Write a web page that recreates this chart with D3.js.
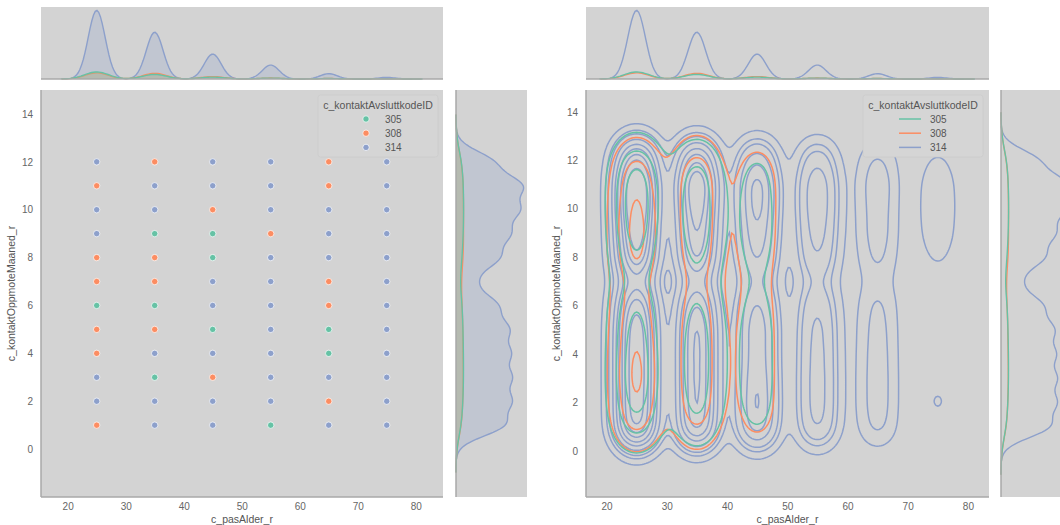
<!DOCTYPE html>
<html>
<head>
<meta charset="utf-8">
<script src="https://cdn.jsdelivr.net/npm/d3@7"></script>
<style>
  body { margin: 0; background: #fff; }
  text { font-family: "Liberation Sans", Arial, sans-serif; }
</style>
</head>
<body>
<div id="chart"></div>
<script>
// two seaborn-style jointplots: scatter with kde marginals (left),
// bivariate kde contours with kde marginals (right)
const ages = [25, 35, 45, 55, 65, 75];
const months = [1, 2, 3, 4, 5, 6, 7, 8, 9, 10, 11, 12];
const hueLevels = ["305", "308", "314"];
const hueColors = ["#66c2a5", "#fc8d62", "#8da0cb"];

// estimated row counts, one row per age, columns = months 1..12
const counts305 = [
  [70, 90, 100, 95, 85, 80, 40, 75, 90, 100, 95, 80],
  [45, 55, 60, 60, 58, 50, 30, 52, 62, 65, 63, 50],
  [20, 24, 25, 25, 25, 22, 14, 22, 25, 25, 23, 20],
  [12, 11, 11, 11, 11, 11, 8, 11, 11, 12, 11, 10],
  [5, 5, 6, 7, 7, 6, 4, 5, 5, 5, 5, 5],
  [2, 2, 2, 2, 2, 2, 2, 2, 3, 2, 2, 2]
];
const counts308 = [
  [65, 70, 85, 75, 70, 60, 50, 85, 85, 80, 70, 55],
  [55, 65, 70, 70, 68, 62, 45, 65, 70, 72, 75, 63],
  [25, 28, 28, 28, 28, 26, 20, 28, 30, 30, 32, 27],
  [10, 10, 11, 11, 11, 10, 9, 12, 12, 12, 12, 10],
  [5, 6, 5, 5, 5, 6, 6, 5, 5, 6, 6, 5],
  [2, 2, 2, 2, 2, 2, 2, 2, 2, 2, 3, 2]
];
const counts314 = [
  [600, 620, 640, 640, 620, 500, 200, 520, 620, 740, 760, 440],
  [400, 420, 430, 430, 430, 340, 140, 350, 410, 475, 555, 320],
  [230, 250, 230, 210, 220, 180, 90, 180, 220, 260, 280, 150],
  [120, 130, 130, 125, 120, 100, 45, 105, 130, 150, 155, 90],
  [45, 50, 50, 48, 45, 40, 20, 40, 50, 50, 58, 40],
  [2, 18, 5, 4, 4, 4, 3, 14, 28, 32, 30, 14]
];
// hue of the marker that ends up drawn on top, per age, months 1..12
const topHue = [
  ["308", "314", "314", "308", "308", "305", "308", "308", "314", "314", "308", "314"],
  ["314", "314", "305", "314", "308", "305", "308", "308", "305", "314", "314", "308"],
  ["314", "314", "308", "314", "305", "314", "314", "305", "305", "308", "314", "314"],
  ["305", "314", "314", "314", "314", "314", "314", "314", "308", "314", "314", "314"],
  ["314", "308", "314", "305", "305", "308", "308", "314", "314", "314", "308", "308"],
  ["314", "314", "314", "314", "314", "314", "314", "314", "314", "314", "314", "314"]
];
const xTicks = [20, 30, 40, 50, 60, 70, 80];
const yTicks = [0, 2, 4, 6, 8, 10, 12, 14];
const xLabel = "c_pasAlder_r";
const yLabel = "c_kontaktOppmoteMaaned_r";
const legendTitle = "c_kontaktAvsluttkodeID";

// kernel bandwidths (age, month) per hue
const bw1d = { "305": [2.06, 0.66], "308": [2.0, 0.66], "314": [1.46, 0.47] };
const bw2d = { "305": [2.8, 0.85], "308": [2.75, 0.85], "314": [2.1, 0.6] };

const countsByHue = { "305": counts305, "308": counts308, "314": counts314 };
const colorOf = h => hueColors[hueLevels.indexOf(h)];
const N = d3.sum(hueLevels, h => d3.sum(countsByHue[h], r => d3.sum(r)));

const W = 1060, H = 525;
const svg = d3.select("#chart").append("svg")
  .attr("width", W).attr("height", H);

const BG = "#d3d3d3", SPINE = "#a8a8a8", TICK = "#666", LAB = "#555";

// ---- densities ----
function kde1d(weights, centers, bw) {
  const ext = d3.extent(centers);
  const lo = ext[0] - 3 * bw, hi = ext[1] + 3 * bw;
  const norm = bw * Math.sqrt(2 * Math.PI) * N;
  return d3.range(200).map(i => {
    const v = lo + (hi - lo) * i / 199;
    const s = d3.sum(centers, (c, k) => weights[k] * Math.exp(-0.5 * ((v - c) / bw) ** 2));
    return [v, s / norm];
  });
}
const margX = {}, margY = {};
hueLevels.forEach(h => {
  const c = countsByHue[h];
  const colT = c.map(r => d3.sum(r));
  const rowT = months.map((m, j) => d3.sum(c, r => r[j]));
  margX[h] = kde1d(colT, ages, bw1d[h][0]);
  margY[h] = kde1d(rowT, months, bw1d[h][1]);
});
const maxMX = d3.max(hueLevels, h => d3.max(margX[h], d => d[1]));
const maxMY = d3.max(hueLevels, h => d3.max(margY[h], d => d[1]));

function kde2d(c, bx, by) {
  const n = 200;
  const ax = d3.extent(ages), my = d3.extent(months);
  const x0 = ax[0] - 3 * bx, x1 = ax[1] + 3 * bx;
  const y0 = my[0] - 3 * by, y1 = my[1] + 3 * by;
  const xs = d3.range(n).map(i => x0 + (x1 - x0) * i / (n - 1));
  const ys = d3.range(n).map(i => y0 + (y1 - y0) * i / (n - 1));
  const gx = ages.map(a => xs.map(x => Math.exp(-0.5 * ((x - a) / bx) ** 2)));
  const gy = months.map(m => ys.map(y => Math.exp(-0.5 * ((y - m) / by) ** 2)));
  const values = new Float64Array(n * n);
  const norm = 2 * Math.PI * bx * by * N;
  ages.forEach((a, ai) => {
    for (let j = 0; j < n; j++) {
      let s = 0;
      months.forEach((m, mi) => { s += c[ai][mi] * gy[mi][j]; });
      s /= norm;
      const row = gx[ai];
      for (let i = 0; i < n; i++) values[j * n + i] += s * row[i];
    }
  });
  return { values, n, x0, x1, y0, y1 };
}
const dens = {};
hueLevels.forEach(h => { dens[h] = kde2d(countsByHue[h], bw2d[h][0], bw2d[h][1]); });

// iso-proportion levels, common over all hues
const allVals = [];
hueLevels.forEach(h => dens[h].values.forEach(v => allVals.push(v)));
const sorted = allVals.sort((a, b) => b - a);
const tot = d3.sum(sorted);
const cum = new Float64Array(sorted.length);
let acc = 0;
sorted.forEach((v, i) => { acc += v; cum[i] = acc / tot; });
const isoProps = d3.range(10).map(i => 0.05 + (1 - 0.05) * i / 9);
const levels = isoProps.slice(0, 9).map(p => {
  const idx = Math.min(d3.bisectLeft(cum, 1 - p), sorted.length - 1);
  return sorted[idx];
}).sort((a, b) => a - b);

// ---- panels ----
const panels = [
  { kind: "scatter", x0: 41, x1: 443, y0: 90, y1: 497, mt0: 7, mt1: 79,
    mr0: 456, mr1: 527, xd: [15.4, 84.7], yd: [-2.0, 15.0],
    leg: { x: 318, y: 95, w: 120, h: 62 } },
  { kind: "kde", x0: 586, x1: 989, y0: 90, y1: 497, mt0: 7, mt1: 79,
    mr0: 1001, mr1: 1072, xd: [16.6, 83.5], yd: [-1.9, 14.9],
    leg: { x: 863, y: 95, w: 120, h: 62 } }
];

panels.forEach((p, pi) => {
  const sx = d3.scaleLinear().domain(p.xd).range([p.x0, p.x1]);
  const sy = d3.scaleLinear().domain(p.yd).range([p.y1, p.y0]);
  const ty = d3.scaleLinear().domain([0, maxMX * 1.05]).range([p.mt1, p.mt0]);
  const rx = d3.scaleLinear().domain([0, maxMY * 1.05]).range([p.mr0, p.mr1]);
  const g = svg.append("g");
  const fill = p.kind === "scatter";

  // backgrounds
  g.append("rect").attr("x", p.x0).attr("y", p.y0)
    .attr("width", p.x1 - p.x0).attr("height", p.y1 - p.y0).attr("fill", BG);
  g.append("rect").attr("x", p.x0).attr("y", p.mt0)
    .attr("width", p.x1 - p.x0).attr("height", p.mt1 - p.mt0).attr("fill", BG);
  g.append("rect").attr("x", p.mr0).attr("y", p.y0)
    .attr("width", p.mr1 - p.mr0).attr("height", p.y1 - p.y0).attr("fill", BG);

  const clipId = "clip" + pi;
  svg.append("clipPath").attr("id", clipId).append("rect")
    .attr("x", p.x0).attr("y", p.y0)
    .attr("width", p.x1 - p.x0).attr("height", p.y1 - p.y0);

  // top marginal
  const hr = hueLevels.slice().reverse();
  const mt = g.append("g");
  hr.forEach(h => {
    if (fill) {
      mt.append("path").datum(margX[h])
        .attr("d", d3.area().x(d => sx(d[0])).y0(ty(0)).y1(d => ty(d[1])))
        .attr("fill", colorOf(h)).attr("fill-opacity", 0.25);
    }
    mt.append("path").datum(margX[h])
      .attr("d", d3.line().x(d => sx(d[0])).y(d => ty(d[1])))
      .attr("fill", "none").attr("stroke", colorOf(h)).attr("stroke-width", 1.4);
  });
  // right marginal
  const mr = g.append("g");
  hr.forEach(h => {
    if (fill) {
      mr.append("path").datum(margY[h])
        .attr("d", d3.area().y(d => sy(d[0])).x0(rx(0)).x1(d => rx(d[1])))
        .attr("fill", colorOf(h)).attr("fill-opacity", 0.25);
    }
    mr.append("path").datum(margY[h])
      .attr("d", d3.line().y(d => sy(d[0])).x(d => rx(d[1])))
      .attr("fill", "none").attr("stroke", colorOf(h)).attr("stroke-width", 1.4);
  });

  // joint
  const jg = g.append("g").attr("clip-path", "url(#" + clipId + ")");
  if (p.kind === "scatter") {
    const pts = [];
    ages.forEach((a, ai) => months.forEach((m, mi) => pts.push({ a, m, h: topHue[ai][mi] })));
    jg.selectAll("circle").data(pts).join("circle")
      .attr("cx", d => sx(d.a)).attr("cy", d => sy(d.m)).attr("r", 3.2)
      .attr("fill", d => colorOf(d.h))
      .attr("stroke", "#fff").attr("stroke-width", 0.7);
  } else {
    hr.forEach(h => {
      const D = dens[h];
      const dx = (D.x1 - D.x0) / (D.n - 1), dy = (D.y1 - D.y0) / (D.n - 1);
      const proj = d3.geoTransform({
        point: function (x, y) {
          this.stream.point(sx(D.x0 + (x - 0.5) * dx), sy(D.y0 + (y - 0.5) * dy));
        }
      });
      const path = d3.geoPath(proj);
      const cs = d3.contours().size([D.n, D.n]).thresholds(levels)(D.values);
      jg.append("g").selectAll("path").data(cs).join("path")
        .attr("d", path).attr("fill", "none")
        .attr("stroke", colorOf(h)).attr("stroke-width", 1.5);
    });
  }

  // spines
  const sp = g.append("g").attr("stroke", SPINE).attr("stroke-width", 1.5);
  sp.append("line").attr("x1", p.x0).attr("x2", p.x0).attr("y1", p.y0).attr("y2", p.y1);
  sp.append("line").attr("x1", p.x0).attr("x2", p.x1).attr("y1", p.y1).attr("y2", p.y1);
  sp.append("line").attr("x1", p.x0).attr("x2", p.x1).attr("y1", p.mt1).attr("y2", p.mt1);
  sp.append("line").attr("x1", p.mr0).attr("x2", p.mr0).attr("y1", p.y0).attr("y2", p.y1);

  // ticks
  const xa = g.append("g").attr("transform", "translate(0," + p.y1 + ")")
    .call(d3.axisBottom(sx).tickValues(xTicks).tickSize(0).tickPadding(6));
  const ya = g.append("g").attr("transform", "translate(" + p.x0 + ",0)")
    .call(d3.axisLeft(sy).tickValues(yTicks).tickSize(0).tickPadding(8));
  [xa, ya].forEach(ax => {
    ax.select(".domain").remove();
    ax.selectAll("text").attr("fill", TICK).attr("font-size", "10px")
      .attr("font-family", "'Liberation Sans', Arial, sans-serif");
  });

  // axis labels
  g.append("text").attr("x", (p.x0 + p.x1) / 2).attr("y", 523)
    .attr("text-anchor", "middle").attr("font-size", "10.5px").attr("fill", LAB)
    .text(xLabel);
  g.append("text")
    .attr("transform", "translate(" + (p.x0 - 26) + "," + ((p.y0 + p.y1) / 2) + ") rotate(-90)")
    .attr("text-anchor", "middle").attr("font-size", "10.5px").attr("fill", LAB)
    .text(yLabel);

  // legend
  const L = p.leg;
  const lg = g.append("g");
  lg.append("rect").attr("x", L.x).attr("y", L.y).attr("width", L.w).attr("height", L.h)
    .attr("rx", 2.5).attr("fill", "#d5d5d5").attr("stroke", "#cbcbcb").attr("stroke-width", 0.8);
  lg.append("text").attr("x", L.x + L.w / 2).attr("y", L.y + 13.5)
    .attr("text-anchor", "middle").attr("font-size", "10.5px").attr("fill", LAB)
    .text(legendTitle);
  hueLevels.forEach((h, i) => {
    const yy = L.y + 24 + i * 14.2;
    if (p.kind === "scatter") {
      lg.append("circle").attr("cx", L.x + 48).attr("cy", yy).attr("r", 3.2)
        .attr("fill", colorOf(h)).attr("stroke", "#fff").attr("stroke-width", 0.7);
    } else {
      lg.append("line").attr("x1", L.x + 36).attr("x2", L.x + 58)
        .attr("y1", yy).attr("y2", yy)
        .attr("stroke", colorOf(h)).attr("stroke-width", 1.5);
    }
    lg.append("text").attr("x", L.x + 67).attr("y", yy + 3.6)
      .attr("font-size", "10px").attr("fill", LAB).text(h);
  });
});
</script>
</body>
</html>
